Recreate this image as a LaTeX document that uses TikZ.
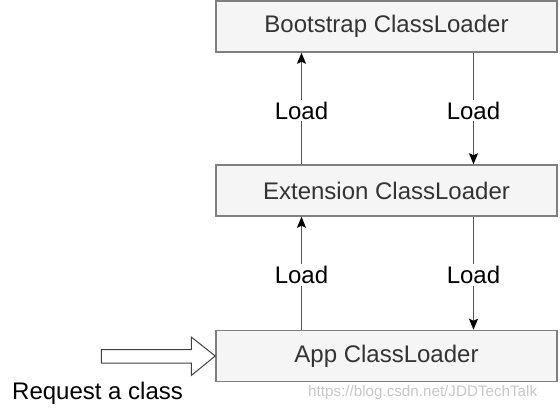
\documentclass[tikz,border=0pt]{standalone}
\usepackage{fontspec}
\setmainfont{Liberation Sans}
\usepackage{tikz}
\usetikzlibrary{arrows.meta,positioning}
\definecolor{boxfill}{HTML}{F5F5F5}
\definecolor{boxline}{HTML}{7F7F7F}
\definecolor{wirecol}{HTML}{555555}
\tikzset{loaderbox/.style={draw=boxline,fill=boxfill,line width=1.5pt,rectangle,minimum width=341pt,minimum height=51pt,inner sep=0,text=black!80,font=\fontsize{24}{28}\selectfont},
    loadlabel/.style={fill=white,inner sep=2pt,yshift=-2pt,font=\fontsize{24}{28}\selectfont},
    loadwire/.style={draw=wirecol,line width=1.3pt,-{Stealth[length=11pt,width=9pt,inset=2pt,black]}},
    fatarrow/.style={draw=black!75,line width=1pt,fill=white}
}

\begin{document}
\begin{tikzpicture}[x=1pt,y=1pt]

\useasboundingbox (0,0) rectangle (560,-408);

\node (boot) [loaderbox] at (386.5,-26.5) {Bootstrap ClassLoader};
\node (ext) [loaderbox] at (386.5,-190.5) {Extension ClassLoader};
\node (app) [loaderbox] at (386.5,-356) {App ClassLoader};

\draw [loadwire] ([xshift=-85pt]ext.north) -- node [loadlabel] {Load} ([xshift=-85pt]boot.south);
\draw [loadwire] ([xshift=87pt]boot.south) -- node [loadlabel] {Load} ([xshift=87pt]ext.north);
\draw [loadwire] ([xshift=-85pt]app.north) -- node [loadlabel] {Load} ([xshift=-85pt]ext.south);
\draw [loadwire] ([xshift=87pt]ext.south) -- node [loadlabel] {Load} ([xshift=87pt]app.north);

\draw [fatarrow] (app.west) -- ++(-24,19) -- ++(0,-12.5) -- ++(-90,0) -- ++(0,-13.5) -- ++(90,0) -- ++(0,-12.5) -- cycle;

\node (request) [anchor=base west,inner sep=0,font=\fontsize{24}{28}\selectfont] at (12,-399) {Request a class};
\node (mark) [anchor=base west,inner sep=0,text=black!22,font=\fontsize{15.2}{18}\selectfont] at (308,-396) {https://blog.csdn.net/JDDTechTalk};

\end{tikzpicture}
\end{document}
